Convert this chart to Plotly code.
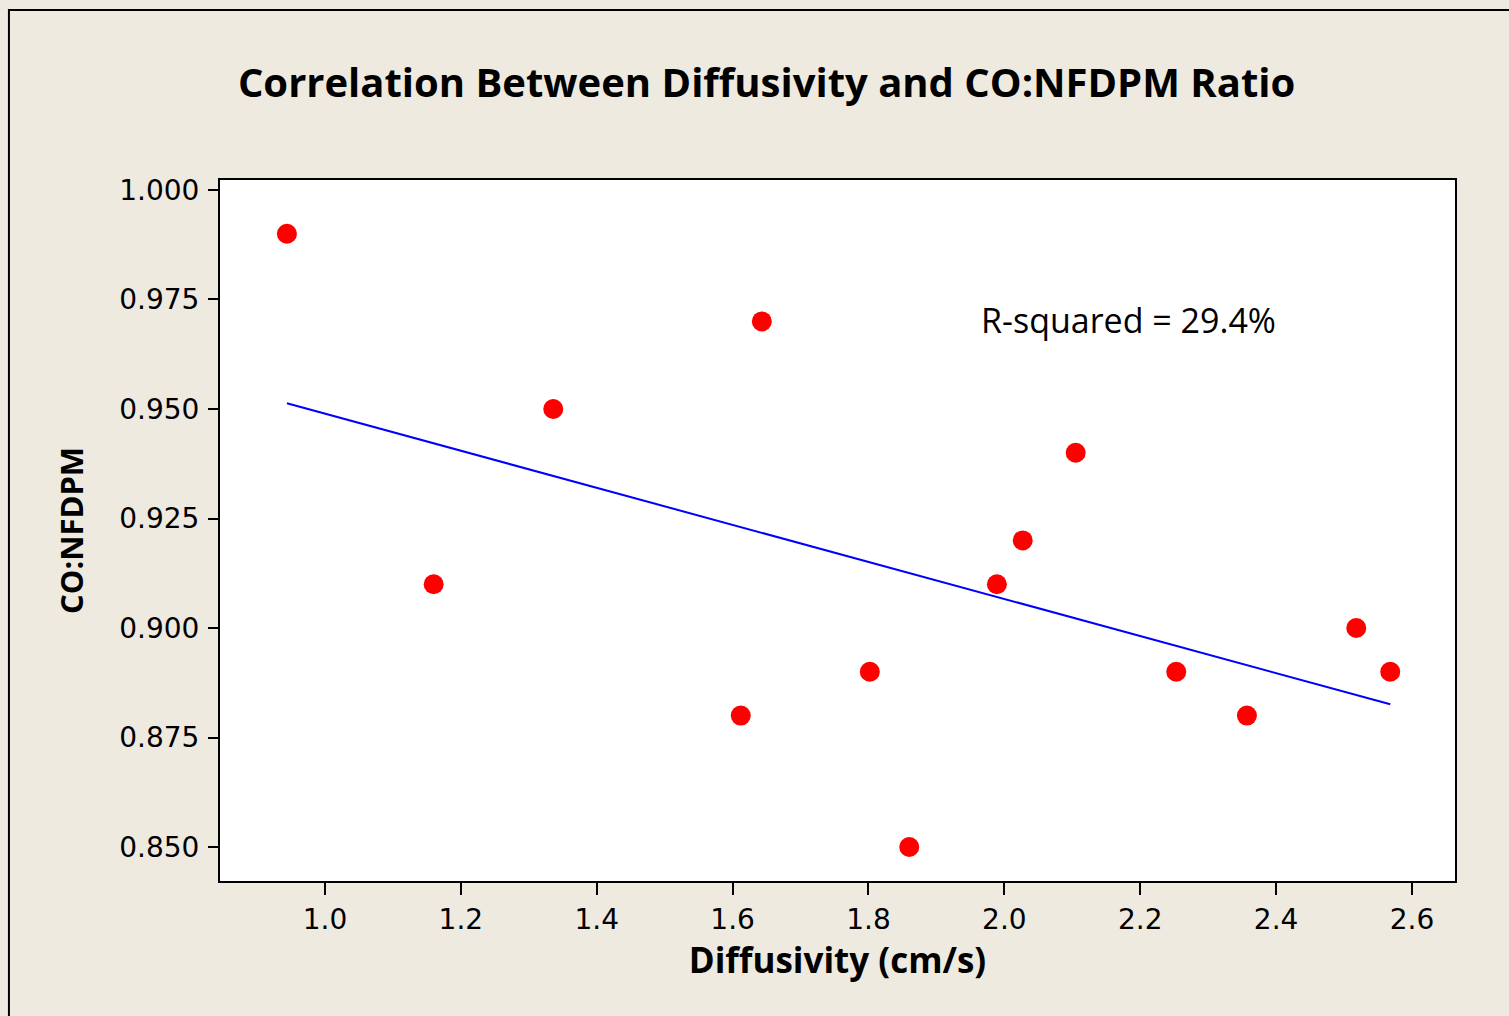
import numpy as np
import plotly.graph_objects as go

# Measured samples
diffusivity = [0.944, 1.160, 1.336, 1.612, 1.643, 1.802, 1.860, 1.989, 2.027, 2.105, 2.253, 2.357, 2.518, 2.568]
co_nfdpm = [0.990, 0.910, 0.950, 0.880, 0.970, 0.890, 0.850, 0.910, 0.920, 0.940, 0.890, 0.880, 0.900, 0.890]

x_ticks = [1.0, 1.2, 1.4, 1.6, 1.8, 2.0, 2.2, 2.4, 2.6]
y_ticks = [0.850, 0.875, 0.900, 0.925, 0.950, 0.975, 1.000]

# Least-squares fitted line over the data range
x = np.array(diffusivity)
y = np.array(co_nfdpm)
slope, intercept = np.polyfit(x, y, 1)
fit_x = [x.min(), x.max()]
fit_y = [slope * v + intercept for v in fit_x]

BG = "#EEEAE0"
FONT = "Open Sans"
TICK_FONT = "DejaVu Sans"

fig = go.Figure()
fig.add_trace(go.Scatter(
    x=fit_x, y=fit_y, mode="lines",
    line=dict(color="#0000FF", width=2), hoverinfo="skip", showlegend=False,
))
fig.add_trace(go.Scatter(
    x=diffusivity, y=co_nfdpm, mode="markers",
    marker=dict(color="#FF0000", size=20, line=dict(width=0)), showlegend=False,
))

fig.update_layout(
    width=1509, height=1016,
    paper_bgcolor=BG, plot_bgcolor="white",
    margin=dict(l=220, r=54, t=180, b=135),
    font=dict(family=FONT, color="black", size=26),
    title=dict(
        text="<b>Correlation Between Diffusivity and CO:NFDPM Ratio</b>",
        x=0.508, xanchor="center", y=0.918, yanchor="middle",
        font=dict(family=FONT, size=40, color="black"),
    ),
    xaxis=dict(
        range=[0.8455, 2.6633], tickvals=x_ticks, ticktext=[f"{v:.1f}" for v in x_ticks],
        showgrid=False, zeroline=False,
        showline=True, linecolor="black", linewidth=2, mirror=True,
        ticks="outside", ticklen=12, tickwidth=2, tickcolor="black",
        tickfont=dict(family=TICK_FONT, size=28),
        title=dict(text="<b>Diffusivity (cm/s)</b>", font=dict(size=35), standoff=14),
    ),
    yaxis=dict(
        range=[0.84224, 1.00228], tickvals=y_ticks, ticktext=[f"{v:.3f}" for v in y_ticks],
        showgrid=False, zeroline=False,
        showline=True, linecolor="black", linewidth=2, mirror=True,
        ticks="outside", ticklen=10, tickwidth=2, tickcolor="black",
        tickfont=dict(family=TICK_FONT, size=28), ticklabelstandoff=3,
        title=dict(text="<b>CO:NFDPM</b>", font=dict(size=31), standoff=26),
    ),
    annotations=[dict(
        x=2.1834, y=0.97032, xref="x", yref="y", showarrow=False,
        text="R-squared = 29.4%", font=dict(size=34, color="black"),
    )],
    shapes=[dict(
        type="rect", xref="paper", yref="paper",
        x0=-0.1709, x1=1.1, y0=-0.3, y1=1.2425,
        line=dict(color="black", width=2), fillcolor="rgba(0,0,0,0)", layer="below",
    )],
)

fig.write_html("out.html")
